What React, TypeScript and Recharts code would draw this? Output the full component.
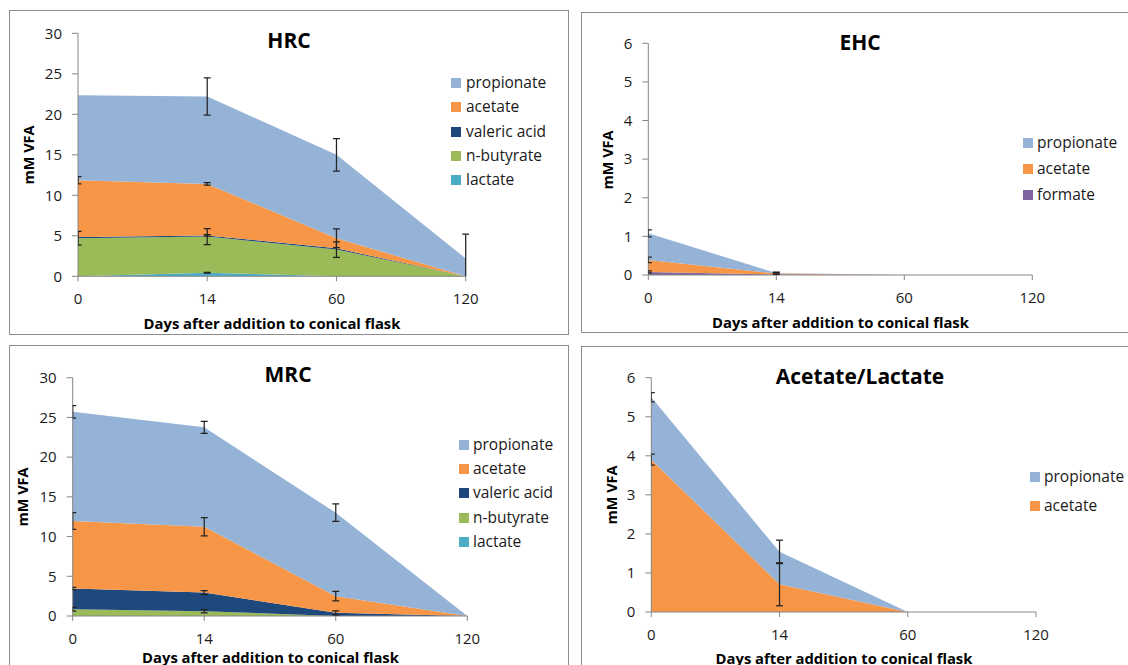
import React from 'react';
import { ComposedChart, Area, Line, XAxis, YAxis, ErrorBar } from 'recharts';

const FONT = "'Open Sans', Lato, sans-serif";

const days = ['0', '14', '60', '120'];

const COLORS: Record<string, string> = {
  propionate: '#95B3D7',
  acetate: '#F79646',
  valeric: '#1F497D',
  butyrate: '#9BBB59',
  lactate: '#4BACC6',
  formate: '#8064A2',
};

const NAMES: Record<string, string> = {
  propionate: 'propionate',
  acetate: 'acetate',
  valeric: 'valeric acid',
  butyrate: 'n-butyrate',
  lactate: 'lactate',
  formate: 'formate',
};

// HRC
const hrcLactate = [0, 0.45, 0, 0];
const hrcButyrate = [4.7, 4.45, 3.3, 0];
const hrcValeric = [0.15, 0.15, 0.15, 0];
const hrcAcetate = [7.0, 6.35, 1.25, 0];
const hrcPropionate = [10.5, 10.8, 10.3, 2.2];
const hrcLactateErr = [0, 0.05, 0, 0];
const hrcButyrateErr = [0.85, 1.0, 0.95, 0];
const hrcValericErr = [0, 0.1, 0, 0];
const hrcAcetateErr = [0.45, 0.15, 1.15, 0];
const hrcPropionateErr = [0, 2.3, 2.0, 3.0];

// EHC
const ehcFormate = [0.08, 0.01, 0, 0];
const ehcAcetate = [0.31, 0.03, 0, 0];
const ehcPropionate = [0.69, 0.01, 0, 0];
const ehcFormateErr = [0.03, 0, 0, 0];
const ehcAcetateErr = [0.07, 0.03, 0, 0];
const ehcPropionateErr = [0.09, 0.02, 0, 0];

// MRC
const mrcLactate = [0, 0, 0, 0];
const mrcButyrate = [0.85, 0.6, 0, 0];
const mrcValeric = [2.6, 2.35, 0.4, 0];
const mrcAcetate = [8.5, 8.3, 2.1, 0];
const mrcPropionate = [13.75, 12.5, 10.5, 0];
const mrcLactateErr = [0, 0, 0, 0];
const mrcButyrateErr = [0.25, 0.2, 0, 0];
const mrcValericErr = [0.15, 0.25, 0.25, 0];
const mrcAcetateErr = [1.05, 1.15, 0.6, 0];
const mrcPropionateErr = [0.8, 0.75, 1.1, 0];

// Acetate/Lactate
const alAcetate = [3.9, 0.71, 0, 0];
const alPropionate = [1.6, 0.83, 0, 0];
const alAcetateErr = [0.14, 0.55, 0, 0];
const alPropionateErr = [0.12, 0.3, 0, 0];

const ticks30 = [0, 5, 10, 15, 20, 25, 30];
const ticks6 = [0, 1, 2, 3, 4, 5, 6];

type Series = { key: string; values: number[]; errors: number[] };

function buildRows(series: Series[]) {
  return days.map((d, i) => {
    const row: Record<string, any> = { day: d };
    let cum = 0;
    series.forEach((s) => {
      cum += s.values[i];
      row[s.key] = s.values[i];
      row[s.key + '_cum'] = cum;
      row[s.key + '_err'] = s.errors[i];
    });
    return row;
  });
}

const panels = [
  {
    id: 'hrc',
    title: 'HRC',
    box: { left: 9, top: 10, width: 560, height: 325 },
    plot: { left: 69, right: 456.7, top: 23.3, bottom: 266.3 },
    titlePos: [280, 30],
    yLabelPos: [20, 145],
    xTitlePos: [263, 312.7],
    legend: { markerX: 442, textX: 457, y0: 73, gap: 24.3 },
    yMax: 30,
    yTicks: ticks30,
    series: [
      { key: 'lactate', values: hrcLactate, errors: hrcLactateErr },
      { key: 'butyrate', values: hrcButyrate, errors: hrcButyrateErr },
      { key: 'valeric', values: hrcValeric, errors: hrcValericErr },
      { key: 'acetate', values: hrcAcetate, errors: hrcAcetateErr },
      { key: 'propionate', values: hrcPropionate, errors: hrcPropionateErr },
    ],
  },
  {
    id: 'ehc',
    title: 'EHC',
    box: { left: 581, top: 12, width: 560, height: 321 },
    plot: { left: 67.3, right: 451.3, top: 31.3, bottom: 263 },
    titlePos: [279, 30],
    yLabelPos: [27, 148],
    xTitlePos: [259.5, 309.7],
    legend: { markerX: 442, textX: 456, y0: 131.3, gap: 25.9 },
    yMax: 6,
    yTicks: ticks6,
    series: [
      { key: 'formate', values: ehcFormate, errors: ehcFormateErr },
      { key: 'acetate', values: ehcAcetate, errors: ehcAcetateErr },
      { key: 'propionate', values: ehcPropionate, errors: ehcPropionateErr },
    ],
  },
  {
    id: 'mrc',
    title: 'MRC',
    box: { left: 9, top: 345, width: 560, height: 330 },
    plot: { left: 63.7, right: 458.3, top: 32.7, bottom: 271 },
    titlePos: [279, 29],
    yLabelPos: [14, 151.7],
    xTitlePos: [261.5, 311.7],
    legend: { markerX: 450, textX: 464, y0: 100, gap: 24.2 },
    yMax: 30,
    yTicks: ticks30,
    series: [
      { key: 'lactate', values: mrcLactate, errors: mrcLactateErr },
      { key: 'butyrate', values: mrcButyrate, errors: mrcButyrateErr },
      { key: 'valeric', values: mrcValeric, errors: mrcValericErr },
      { key: 'acetate', values: mrcAcetate, errors: mrcAcetateErr },
      { key: 'propionate', values: mrcPropionate, errors: mrcPropionateErr },
    ],
  },
  {
    id: 'al',
    title: 'Acetate/Lactate',
    box: { left: 581, top: 346, width: 560, height: 330 },
    plot: { left: 70.3, right: 455, top: 31.7, bottom: 266 },
    titlePos: [279, 30],
    yLabelPos: [30.7, 149],
    xTitlePos: [263, 312],
    legend: { markerX: 449, textX: 463, y0: 131.3, gap: 28.4 },
    yMax: 6,
    yTicks: ticks6,
    series: [
      { key: 'acetate', values: alAcetate, errors: alAcetateErr },
      { key: 'propionate', values: alPropionate, errors: alPropionateErr },
    ],
  },
];

const AXIS = '#868686';
const TEXT = '#1a1a1a';

function PanelChart({ cfg, rows, errorsOnly }: { cfg: any; rows: any[]; errorsOnly: boolean }) {
  const { box, plot, series } = cfg;
  const W = box.width;
  const H = box.height;
  const xAxisH = 30;
  return (
    <ComposedChart
      width={W}
      height={H}
      data={rows}
      margin={{ top: plot.top, right: W - plot.right, bottom: H - plot.bottom - xAxisH, left: 0 }}
    >
      <XAxis
        dataKey="day"
        scale="point"
        interval={0}
        height={xAxisH}
        stroke={AXIS}
        tickSize={5}
        tickMargin={12}
        axisLine={!errorsOnly}
        tickLine={!errorsOnly}
        tick={errorsOnly ? false : { fill: TEXT, fontSize: 15, fontFamily: FONT }}
      />
      <YAxis
        width={plot.left}
        domain={[0, cfg.yMax]}
        ticks={cfg.yTicks}
        allowDataOverflow
        interval={0}
        stroke={AXIS}
        tickSize={6}
        tickMargin={10}
        axisLine={!errorsOnly}
        tickLine={!errorsOnly}
        tick={errorsOnly ? false : { fill: TEXT, fontSize: 15, fontFamily: FONT }}
      />
      {!errorsOnly &&
        series.map((s: Series) => (
          <Area
            key={s.key}
            type="linear"
            dataKey={s.key}
            stackId="a"
            stroke="none"
            fill={COLORS[s.key]}
            fillOpacity={1}
            isAnimationActive={false}
            dot={false}
            activeDot={false}
          />
        ))}
      {errorsOnly &&
        series.map((s: Series) => (
          <Line
            key={s.key + '_cum'}
            type="linear"
            dataKey={s.key + '_cum'}
            stroke="none"
            dot={false}
            activeDot={false}
            legendType="none"
            isAnimationActive={false}
          >
            <ErrorBar dataKey={s.key + '_err'} width={3.5} stroke="#222" strokeWidth={1.25} />
          </Line>
        ))}
    </ComposedChart>
  );
}

function Panel({ cfg }: { cfg: any }) {
  const { box, plot, series } = cfg;
  const rows = buildRows(series);
  const W = box.width;
  const H = box.height;
  const legendItems = [...series].reverse();
  const clip = `inset(${plot.top - 4}px ${W - plot.right - 4}px ${H - plot.bottom}px ${plot.left}px)`;
  return (
    <div style={{ position: 'absolute', left: box.left, top: box.top, width: W, height: H }}>
      <div style={{ position: 'absolute', left: 0, top: 0, width: W, height: H, border: '1px solid #8c8c8c', boxSizing: 'border-box' }} />
      <div style={{ position: 'absolute', left: 0, top: 0 }}>
        <PanelChart cfg={cfg} rows={rows} errorsOnly={false} />
      </div>
      <div style={{ position: 'absolute', left: 0, top: 0, clipPath: clip }}>
        <PanelChart cfg={cfg} rows={rows} errorsOnly={true} />
      </div>
      <div style={{ position: 'absolute', left: cfg.titlePos[0], top: cfg.titlePos[1], transform: 'translate(-50%,-50%)', fontFamily: FONT, fontWeight: 700, fontSize: 21, lineHeight: 1, whiteSpace: 'nowrap', color: '#000' }}>
        {cfg.title}
      </div>
      <div style={{ position: 'absolute', left: cfg.yLabelPos[0], top: cfg.yLabelPos[1], transform: 'translate(-50%,-50%) rotate(-90deg)', fontFamily: FONT, fontWeight: 700, fontSize: 14.5, lineHeight: 1, whiteSpace: 'nowrap', color: '#000' }}>
        mM VFA
      </div>
      <div style={{ position: 'absolute', left: cfg.xTitlePos[0], top: cfg.xTitlePos[1], transform: 'translate(-50%,-50%)', fontFamily: FONT, fontWeight: 700, fontSize: 14.8, lineHeight: 1, whiteSpace: 'nowrap', color: '#000' }}>
        Days after addition to conical flask
      </div>
      {legendItems.map((s: Series, i: number) => {
        const cy = cfg.legend.y0 + i * cfg.legend.gap;
        return (
          <React.Fragment key={s.key}>
            <div style={{ position: 'absolute', left: cfg.legend.markerX, top: cy - 5, width: 10, height: 10, background: COLORS[s.key] }} />
            <div style={{ position: 'absolute', left: cfg.legend.textX, top: cy, transform: 'translateY(-50%)', fontFamily: FONT, fontSize: 15.5, lineHeight: 1, whiteSpace: 'nowrap', color: TEXT }}>
              {NAMES[s.key]}
            </div>
          </React.Fragment>
        );
      })}
    </div>
  );
}

export default function App() {
  return (
    <div style={{ position: 'absolute', left: 0, top: 0, width: 1128, height: 665, overflow: 'hidden', background: '#fff' }}>
      {panels.map((p) => (
        <Panel key={p.id} cfg={p} />
      ))}
    </div>
  );
}
